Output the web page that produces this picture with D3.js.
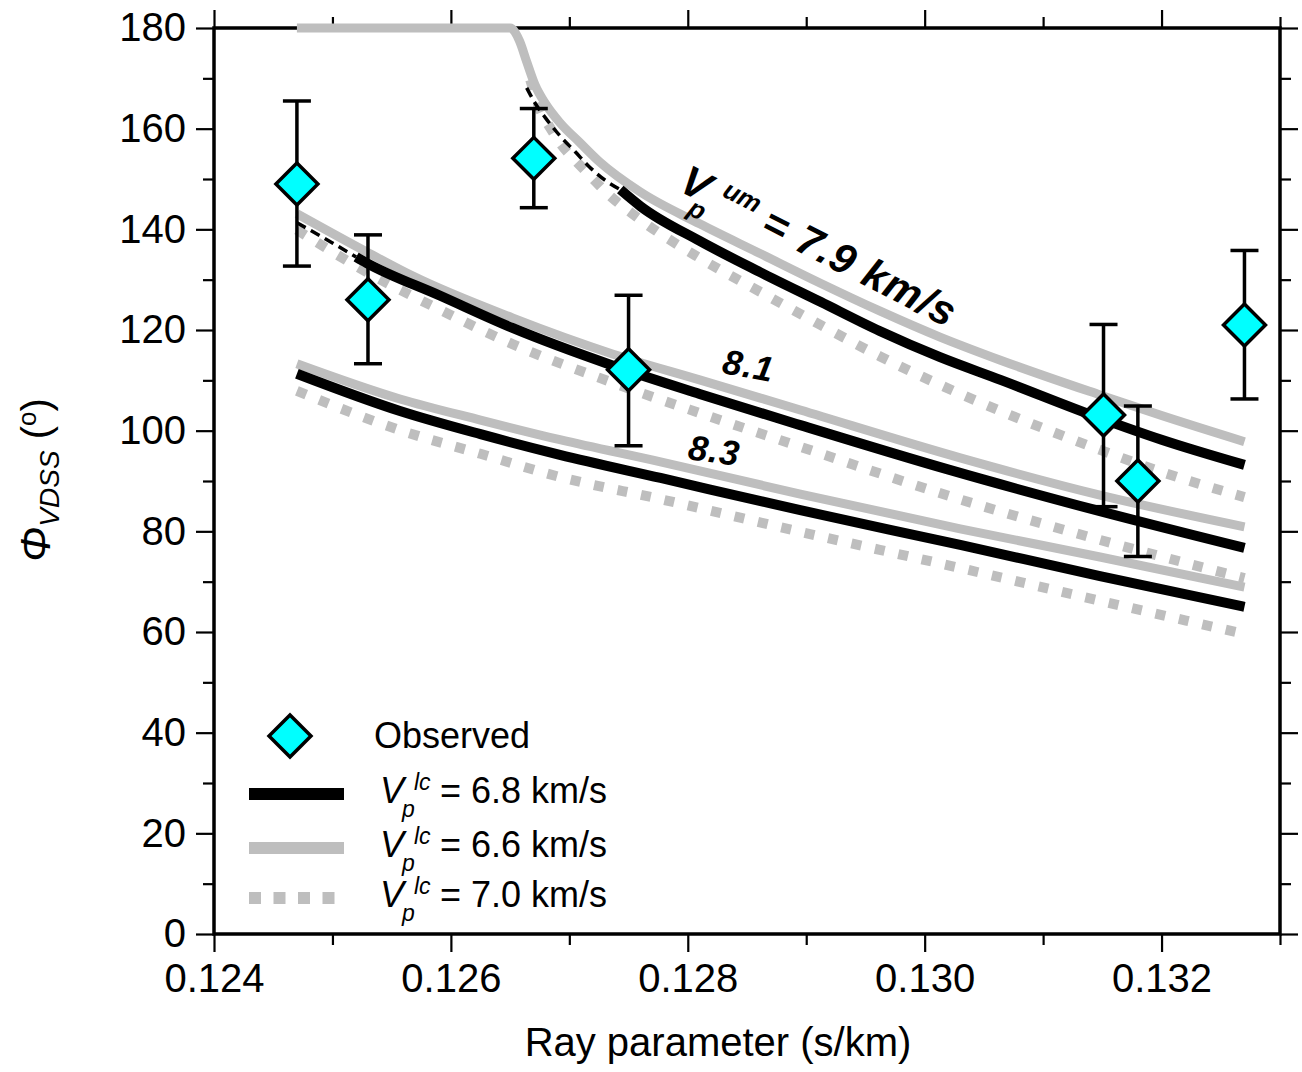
<!DOCTYPE html>
<html><head><meta charset="utf-8">
<script src="https://cdn.jsdelivr.net/npm/d3@7"></script>
<style>
body{margin:0;background:#fff}
svg{display:block}
text{font-family:"Liberation Sans",Arial,Helvetica,sans-serif;fill:#000}
</style>
</head><body>
<svg id="chart" width="1302" height="1072"></svg>
<script>
// ---------- axis ticks ----------
const xMajorTicks = [0.124, 0.126, 0.128, 0.130, 0.132];
const xTickLabels = ["0.124", "0.126", "0.128", "0.130", "0.132"];
const xMinorTicks = [0.125, 0.127, 0.129, 0.131, 0.133];
const yMajorTicks = [0, 20, 40, 60, 80, 100, 120, 140, 160, 180];
const yMinorTicks = [10, 30, 50, 70, 90, 110, 130, 150, 170];

// ---------- observed ----------
const obsP   = [0.12470, 0.12530, 0.12670, 0.12750, 0.13151, 0.13180, 0.13270];
const obsPhi = [149.0, 126.0, 154.1, 112.1, 103.1, 90.0, 121.0];
const obsLo  = [132.7, 113.3, 144.3, 97.0, 84.9, 75.0, 106.3];
const obsHi  = [165.5, 138.9, 164.0, 126.9, 121.1, 104.9, 135.8];

// ---------- model curves [ray parameter, phi] ----------
// Vp_um = 7.9
const um79_lc66 = [[0.1247,180],[0.1265,180],[0.12658,177.4],[0.12664,173.3],[0.12671,168.7],[0.12680,164.9],[0.12692,161.2],[0.12709,157.2],[0.12726,153.3],[0.12760,147.4],[0.12810,141.1],[0.12861,135.2],[0.12912,129.3],[0.12962,123.8],[0.13013,118.6],[0.13064,114.0],[0.13148,107.1],[0.13200,103.0],[0.13270,97.8]];
const um79_lc68_thin = [[0.12664,168.1],[0.12671,165.1],[0.12680,162.1],[0.12692,158.6],[0.12705,155.4],[0.12717,152.4],[0.12730,149.8],[0.12743,147.9]];
const um79_lc68 = [[0.12743,147.9],[0.12760,144.6],[0.12810,137.7],[0.12861,131.5],[0.12912,125.6],[0.12962,119.8],[0.13013,114.6],[0.13064,110.1],[0.13148,102.5],[0.13200,98.2],[0.13270,93.2]];
const um79_lc70 = [[0.12667,169.7],[0.12675,163.9],[0.12684,160.1],[0.12692,157.2],[0.12705,153.7],[0.12717,150.8],[0.12730,147.6],[0.12760,141.9],[0.12810,134.3],[0.12861,127.6],[0.12912,121.0],[0.12962,114.8],[0.13013,109.1],[0.13064,103.9],[0.13148,96.2],[0.13200,91.8],[0.13270,86.8]];
// Vp_um = 8.1
const um81_lc66 = [[0.1247,143.1],[0.12529,135.5],[0.12568,130.7],[0.12652,122.4],[0.12737,115.2],[0.12810,110.1],[0.12895,104.1],[0.13030,94.6],[0.13148,87.2],[0.13270,80.9]];
const um81_lc68_thin = [[0.1247,141.3],[0.12500,137.3],[0.12520,134.5]];
const um81_lc68 = [[0.12520,134.5],[0.12529,133.3],[0.12591,126.8],[0.12652,120.4],[0.12737,112.9],[0.12810,107.3],[0.12895,101.1],[0.13021,92.2],[0.13148,84.0],[0.13270,76.7]];
const um81_lc70 = [[0.1247,139.9],[0.12529,131.5],[0.12591,124.0],[0.12652,117.2],[0.12737,109.5],[0.12810,103.5],[0.12895,96.8],[0.13021,87.0],[0.13148,78.3],[0.13270,70.7]];
// Vp_um = 8.3
const um83_lc66 = [[0.1247,113.3],[0.12557,106.3],[0.12625,102.1],[0.12692,98.2],[0.12777,93.8],[0.12895,87.4],[0.13030,80.5],[0.13148,74.9],[0.13270,68.9]];
const um83_lc68 = [[0.1247,111.3],[0.12557,103.9],[0.12625,99.3],[0.12692,95.2],[0.12777,90.6],[0.12895,84.2],[0.13030,77.3],[0.13148,71.1],[0.13270,65.0]];
const um83_lc70 = [[0.1247,107.9],[0.12557,100.1],[0.12625,95.4],[0.12692,90.8],[0.12777,86.4],[0.12895,79.9],[0.13030,72.7],[0.13148,66.2],[0.13270,59.6]];

const legendLabels = ["Observed", "6.8", "6.6", "7.0"];

// ---------- setup ----------
const svg = d3.select("#chart");
const x = d3.scaleLinear().domain([0.124, 0.133]).range([214, 1280]);
const y = d3.scaleLinear().domain([0, 180]).range([934, 28]);
const GRAY = "#bebebe";
const FS = 40;

// frame
svg.append("rect").attr("x", x(0.124)).attr("y", y(180))
  .attr("width", x(0.133) - x(0.124)).attr("height", y(0) - y(180))
  .attr("fill", "none").attr("stroke", "#000").attr("stroke-width", 3.5);

function styleAxis(g) {
  g.select(".domain").remove();
  g.selectAll(".tick line").attr("stroke", "#000").attr("stroke-width", 2.2);
  g.selectAll("text").style("font-size", FS + "px").attr("fill", "#000");
}
const MAJ = 18, MIN = 11;
svg.append("g").attr("transform", `translate(0,${y(0)})`)
  .call(d3.axisBottom(x).tickValues(xMajorTicks).tickSize(MAJ).tickPadding(12).tickFormat((d, i) => xTickLabels[i]))
  .call(styleAxis);
svg.append("g").attr("transform", `translate(0,${y(0)})`)
  .call(d3.axisBottom(x).tickValues(xMinorTicks).tickSize(MIN).tickFormat(""))
  .call(styleAxis);
svg.append("g").attr("transform", `translate(0,${y(180)})`)
  .call(d3.axisTop(x).tickValues(xMajorTicks).tickSize(MAJ).tickFormat(""))
  .call(styleAxis);
svg.append("g").attr("transform", `translate(0,${y(180)})`)
  .call(d3.axisTop(x).tickValues(xMinorTicks).tickSize(MIN).tickFormat(""))
  .call(styleAxis);
svg.append("g").attr("transform", `translate(${x(0.124)},0)`)
  .call(d3.axisLeft(y).tickValues(yMajorTicks).tickSize(MAJ).tickPadding(10).tickFormat(d3.format("d")))
  .call(styleAxis);
svg.append("g").attr("transform", `translate(${x(0.124)},0)`)
  .call(d3.axisLeft(y).tickValues(yMinorTicks).tickSize(MIN).tickFormat(""))
  .call(styleAxis);
svg.append("g").attr("transform", `translate(${x(0.133)},0)`)
  .call(d3.axisRight(y).tickValues(yMajorTicks).tickSize(MAJ).tickFormat(""))
  .call(styleAxis);
svg.append("g").attr("transform", `translate(${x(0.133)},0)`)
  .call(d3.axisRight(y).tickValues(yMinorTicks).tickSize(MIN).tickFormat(""))
  .call(styleAxis);

// axis titles
svg.append("text").attr("x", 718).attr("y", 1056).attr("text-anchor", "middle")
  .style("font-size", FS + "px").text("Ray parameter (s/km)");
const yt = svg.append("text").attr("transform", "translate(50,480) rotate(-90)")
  .attr("text-anchor", "middle").style("font-size", FS + "px");
yt.append("tspan").style("font-style", "italic").style("font-size", "42px").text("Φ");
yt.append("tspan").style("font-style", "italic").style("font-size", "28px").attr("dy", 9).text("VDSS");
yt.append("tspan").attr("dy", -9).text(" (");
yt.append("tspan").style("font-size", "26px").attr("dy", -14).text("o");
yt.append("tspan").attr("dy", 14).text(")");

// ---------- curves ----------
const line = d3.line().x(d => x(d[0])).y(d => y(d[1])).curve(d3.curveMonotoneX);
const dotted = [um79_lc70, um81_lc70, um83_lc70];
const grays = [um79_lc66, um81_lc66, um83_lc66];
const blacks = [um79_lc68, um81_lc68, um83_lc68];
const thins = [um79_lc68_thin, um81_lc68_thin];

svg.append("g").selectAll("path").data(dotted).join("path")
  .attr("d", line).attr("fill", "none").attr("stroke", GRAY)
  .attr("stroke-width", 10).attr("stroke-dasharray", "10,14");
svg.append("g").selectAll("path").data(grays).join("path")
  .attr("d", line).attr("fill", "none").attr("stroke", GRAY).attr("stroke-width", 9);
svg.append("g").selectAll("path").data(blacks).join("path")
  .attr("d", line).attr("fill", "none").attr("stroke", "#000").attr("stroke-width", 10);
svg.append("g").selectAll("path").data(thins).join("path")
  .attr("d", line).attr("fill", "none").attr("stroke", "#000")
  .attr("stroke-width", 3.5).attr("stroke-dasharray", "10,6");

// ---------- curve labels ----------
const lab = svg.append("text").attr("transform", "translate(677,190) rotate(27)")
  .style("font-weight", "bold").style("font-style", "italic").style("font-size", "42px");
lab.append("tspan").text("V");
lab.append("tspan").style("font-size", "26px").attr("dx", -9).attr("dy", 17).text("p");
lab.append("tspan").style("font-size", "26px").attr("dx", 7).attr("dy", -32).text("um");
lab.append("tspan").attr("dx", 11).attr("dy", 15).style("letter-spacing", "1px").text("= 7.9 km/s");

svg.append("text").attr("transform", "translate(721,373) rotate(10)")
  .style("font-weight", "bold").style("font-style", "italic").style("font-size", "35px")
  .style("letter-spacing", "1px").text("8.1");
svg.append("text").attr("transform", "translate(687,459) rotate(8)")
  .style("font-weight", "bold").style("font-style", "italic").style("font-size", "35px")
  .style("letter-spacing", "1px").text("8.3");

// ---------- observed ----------
const obs = obsP.map((p, i) => ({p, v: obsPhi[i], lo: obsLo[i], hi: obsHi[i]}));
const eb = svg.append("g").attr("stroke", "#000").attr("stroke-width", 3.5);
eb.selectAll("line.v").data(obs).join("line").attr("class", "v")
  .attr("x1", d => x(d.p)).attr("x2", d => x(d.p)).attr("y1", d => y(d.lo)).attr("y2", d => y(d.hi));
eb.selectAll("line.t").data(obs).join("line").attr("class", "t")
  .attr("x1", d => x(d.p) - 14).attr("x2", d => x(d.p) + 14).attr("y1", d => y(d.hi)).attr("y2", d => y(d.hi));
eb.selectAll("line.b").data(obs).join("line").attr("class", "b")
  .attr("x1", d => x(d.p) - 14).attr("x2", d => x(d.p) + 14).attr("y1", d => y(d.lo)).attr("y2", d => y(d.lo));
const diamond = d3.symbol().type(d3.symbolSquare).size(880);
svg.append("g").selectAll("path").data(obs).join("path")
  .attr("d", diamond)
  .attr("transform", d => `translate(${x(d.p)},${y(d.v)}) rotate(45)`)
  .attr("fill", "#00ffff").attr("stroke", "#000").attr("stroke-width", 3.5);

// ---------- legend ----------
const lg = svg.append("g");
lg.append("path").attr("d", diamond).attr("transform", "translate(290,736) rotate(45)")
  .attr("fill", "#00ffff").attr("stroke", "#000").attr("stroke-width", 3.5);
lg.append("text").attr("x", 374).attr("y", 748).style("font-size", "36px").text(legendLabels[0]);
const rows = [
  {y: 794, stroke: "#000", dash: null, label: legendLabels[1]},
  {y: 848, stroke: GRAY, dash: null, label: legendLabels[2]},
  {y: 898, stroke: GRAY, dash: "12,12.5", label: legendLabels[3]}
];
rows.forEach(r => {
  lg.append("line").attr("x1", 249).attr("x2", 344).attr("y1", r.y).attr("y2", r.y)
    .attr("stroke", r.stroke).attr("stroke-width", 12).attr("stroke-dasharray", r.dash);
  const b = r.y + 9;
  lg.append("text").attr("x", 380).attr("y", b).style("font-size", "36px").style("font-style", "italic").text("V");
  lg.append("text").attr("x", 402).attr("y", b + 14).style("font-size", "23px").style("font-style", "italic").text("p");
  lg.append("text").attr("x", 414).attr("y", b - 13).style("font-size", "23px").style("font-style", "italic").text("lc");
  lg.append("text").attr("x", 440).attr("y", b).style("font-size", "36px").text(`= ${r.label} km/s`);
});
</script>
</body></html>
